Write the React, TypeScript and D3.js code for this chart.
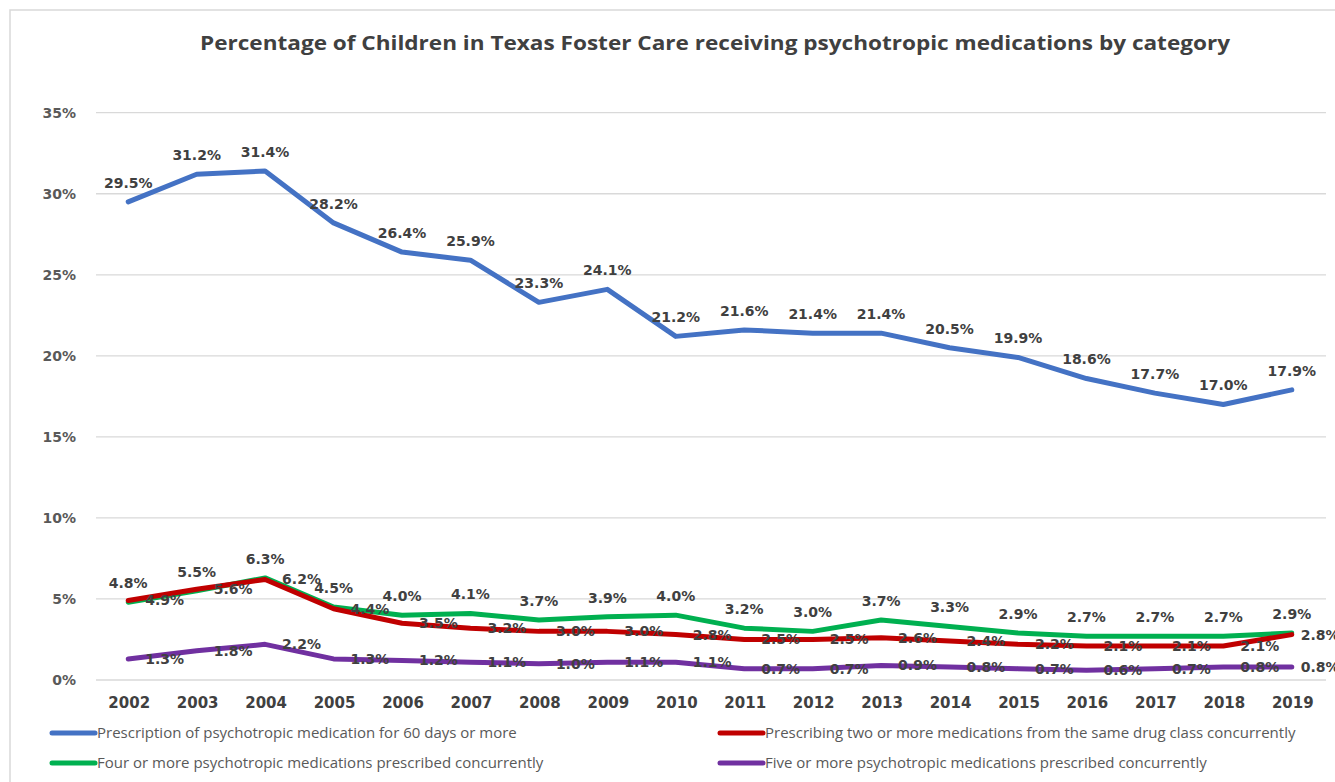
import * as d3 from 'd3';

const years = ['2002', '2003', '2004', '2005', '2006', '2007', '2008', '2009', '2010', '2011', '2012', '2013', '2014', '2015', '2016', '2017', '2018', '2019'];

const sixtyDays = [29.5, 31.2, 31.4, 28.2, 26.4, 25.9, 23.3, 24.1, 21.2, 21.6, 21.4, 21.4, 20.5, 19.9, 18.6, 17.7, 17.0, 17.9];
const sameClass = [4.9, 5.6, 6.2, 4.4, 3.5, 3.2, 3.0, 3.0, 2.8, 2.5, 2.5, 2.6, 2.4, 2.2, 2.1, 2.1, 2.1, 2.8];
const fourOrMore = [4.8, 5.5, 6.3, 4.5, 4.0, 4.1, 3.7, 3.9, 4.0, 3.2, 3.0, 3.7, 3.3, 2.9, 2.7, 2.7, 2.7, 2.9];
const fiveOrMore = [1.3, 1.8, 2.2, 1.3, 1.2, 1.1, 1.0, 1.1, 1.1, 0.7, 0.7, 0.9, 0.8, 0.7, 0.6, 0.7, 0.8, 0.8];

const yTicks = [0, 5, 10, 15, 20, 25, 30, 35];

const series = [
  { name: 'Prescription of psychotropic medication for 60 days or more', values: sixtyDays, color: '#4472C4', label: 'above' },
  { name: 'Four or more psychotropic medications prescribed concurrently', values: fourOrMore, color: '#00B050', label: 'above' },
  { name: 'Prescribing two or more medications from the same drug class concurrently', values: sameClass, color: '#C00000', label: 'right' },
  { name: 'Five or more psychotropic medications prescribed concurrently', values: fiveOrMore, color: '#7030A0', label: 'right' },
];

// legend: left column blue/green, right column red/purple
const legendSlots = [
  { x: 52, y: 733 },
  { x: 52, y: 763 },
  { x: 720, y: 733 },
  { x: 720, y: 763 },
];

export default function App() {
  const width = 1335;
  const height = 782;

  const x = d3.scaleBand<string>().domain(years).range([94, 1326]);
  const y = d3.scaleLinear().domain([0, 35]).range([680, 112.7]);
  const cx = (yr: string) => (x(yr) ?? 0) + x.bandwidth() / 2;

  const line = d3
    .line<number>()
    .x((_, i) => cx(years[i]))
    .y((d) => y(d));

  const labelFont = 'DejaVu Sans, Verdana, sans-serif';
  const last = years.length - 1;

  return (
    <svg width={width} height={height} style={{ position: 'absolute', left: 0, top: 0, background: '#fff' }}>
      {/* outer chart frame */}
      <path d={`M10,${height} V10 H${width}`} fill="none" stroke="#d9d9d9" strokeWidth={1.5} />

      <text
        x={200}
        y={50}
        textLength={1030}
        lengthAdjust="spacingAndGlyphs"
        fontFamily="Open Sans, sans-serif"
        fontWeight={700}
        fontSize={20}
        fill="#404040"
      >
        Percentage of Children in Texas Foster Care receiving psychotropic medications by category
      </text>

      {/* gridlines + y ticks */}
      {yTicks.map((t) => (
        <g key={t}>
          <line x1={96} x2={1326} y1={y(t)} y2={y(t)} stroke="#d9d9d9" strokeWidth={1.3} />
          <text
            x={76}
            y={y(t)}
            dy="0.35em"
            textAnchor="end"
            fontFamily={labelFont}
            fontWeight="bold"
            fontSize={14}
            fill="#595959"
          >
            {t}%
          </text>
        </g>
      ))}

      {/* x ticks */}
      {years.map((yr) => (
        <text
          key={yr}
          x={cx(yr) + 1}
          y={703}
          dy="0.35em"
          textAnchor="middle"
          fontFamily={labelFont}
          fontWeight="bold"
          fontSize={15}
          fill="#404040"
        >
          {yr}
        </text>
      ))}

      {/* lines */}
      {series.map((s) => (
        <path
          key={s.name}
          d={line(s.values) ?? ''}
          fill="none"
          stroke={s.color}
          strokeWidth={5}
          strokeLinecap="round"
          strokeLinejoin="round"
        />
      ))}

      {/* data labels */}
      {series.map((s) =>
        s.values.map((v, i) => {
          const px = cx(years[i]);
          const py = y(v);
          const above = s.label === 'above';
          return (
            <text
              key={s.name + i}
              x={above ? px : px + (i === last ? 9 : 17)}
              y={above ? py - 19 : py}
              dy="0.35em"
              textAnchor={above ? 'middle' : 'start'}
              fontFamily={labelFont}
              fontWeight="bold"
              fontSize={14}
              fill="#404040"
            >
              {v.toFixed(1)}%
            </text>
          );
        })
      )}

      {/* legend */}
      {series.map((s, i) => {
        const slot = legendSlots[i];
        return (
          <g key={s.name} transform={`translate(${slot.x},${slot.y})`}>
            <line x1={0} x2={43} y1={0} y2={0} stroke={s.color} strokeWidth={5} strokeLinecap="round" />
            <text x={45} y={0} dy="0.35em" fontFamily="Open Sans, sans-serif" fontSize={15} fill="#595959">
              {s.name}
            </text>
          </g>
        );
      })}
    </svg>
  );
}
